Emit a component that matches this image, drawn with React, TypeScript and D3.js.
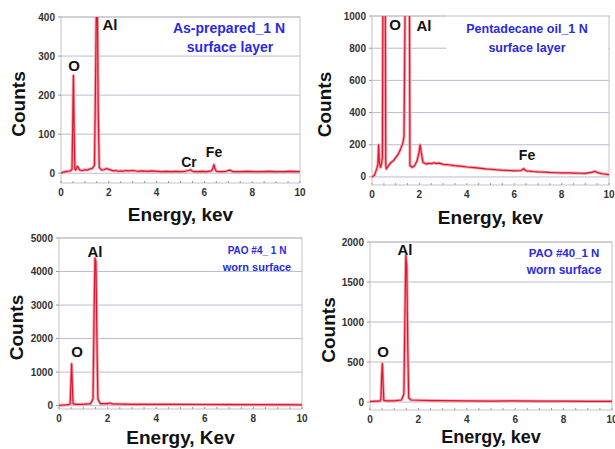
import React from 'react';
import * as d3 from 'd3';

// EDS spectra, [energy keV, counts]
const spectrumAsPrepared: [number, number][] = [
  [0, 0], [0.1, 3], [0.2, 4], [0.3, 5], [0.4, 6], [0.46, 10], [0.49, 120], [0.52, 250], [0.55, 110], [0.58, 10],
  [0.62, 8], [0.68, 18], [0.72, 15], [0.78, 8], [0.9, 7], [1.0, 9], [1.1, 8], [1.2, 11], [1.3, 12], [1.4, 20],
  [1.44, 200], [1.48, 430], [1.52, 430], [1.56, 150], [1.6, 15], [1.7, 8], [1.8, 9], [1.9, 12], [2.0, 10], [2.1, 8],
  [2.2, 6], [2.3, 7], [2.4, 5], [2.5, 6], [2.6, 5], [2.7, 7], [2.8, 6], [3.0, 7], [3.2, 5], [3.4, 6], [3.6, 5],
  [3.8, 6], [4.0, 5], [4.2, 4], [4.4, 5], [4.6, 4], [4.8, 5], [5.0, 4], [5.2, 5], [5.35, 7], [5.42, 9], [5.5, 5],
  [5.7, 4], [5.9, 5], [6.1, 4], [6.3, 6], [6.36, 14], [6.4, 22], [6.44, 12], [6.5, 5], [6.7, 4], [6.9, 5],
  [7.06, 8], [7.2, 4], [7.5, 4], [7.8, 5], [8.1, 4], [8.4, 4], [8.7, 5], [9.0, 4], [9.3, 4], [9.6, 5], [10, 4],
];
const spectrumPentadecane: [number, number][] = [
  [0, 0], [0.1, 10], [0.2, 50], [0.25, 80], [0.28, 200], [0.31, 90], [0.36, 60], [0.4, 80], [0.44, 120],
  [0.46, 1100], [0.56, 1100], [0.58, 80], [0.6, 50], [0.7, 70], [0.8, 90], [0.9, 100], [1.0, 120], [1.1, 140],
  [1.2, 170], [1.3, 210], [1.35, 250], [1.4, 1100], [1.58, 1100], [1.6, 70], [1.7, 60], [1.8, 70], [1.9, 100],
  [1.98, 150], [2.03, 200], [2.08, 150], [2.15, 90], [2.3, 80], [2.4, 86], [2.5, 82], [2.6, 88], [2.7, 84],
  [2.85, 86], [3.0, 78], [3.2, 76], [3.5, 70], [3.8, 66], [4.0, 62], [4.3, 58], [4.5, 55], [4.8, 50], [5.0, 48],
  [5.3, 44], [5.5, 42], [5.8, 40], [6.0, 38], [6.3, 40], [6.4, 52], [6.5, 38], [6.8, 34], [7.0, 32], [7.3, 30],
  [7.5, 28], [7.8, 26], [8.0, 25], [8.3, 25], [8.5, 24], [8.8, 23], [9.0, 22], [9.3, 30], [9.4, 35], [9.5, 28],
  [9.7, 20], [10, 15],
];
const spectrumPao4: [number, number][] = [
  [0, 10], [0.2, 20], [0.4, 30], [0.46, 60], [0.49, 700], [0.52, 1250], [0.55, 600], [0.58, 60], [0.7, 40],
  [1.0, 40], [1.3, 60], [1.4, 200], [1.44, 2500], [1.48, 4400], [1.52, 4300], [1.56, 2000], [1.6, 200], [1.7, 60],
  [2.0, 60], [2.1, 80], [2.2, 50], [3, 40], [4, 38], [5, 35], [6, 34], [7, 32], [8, 30], [9, 28], [10, 25],
];
const spectrumPao40: [number, number][] = [
  [0, 5], [0.2, 10], [0.4, 12], [0.45, 30], [0.48, 300], [0.51, 480], [0.54, 250], [0.57, 20], [0.7, 15],
  [1.0, 15], [1.3, 25], [1.4, 100], [1.44, 1000], [1.48, 1830], [1.52, 1700], [1.56, 700], [1.6, 50], [1.7, 25],
  [2.0, 22], [2.5, 18], [3, 16], [4, 14], [5, 12], [6, 14], [7, 10], [8, 10], [9, 8], [10, 8],
];

const energyTicks = [0, 2, 4, 6, 8, 10];
const ticksAsPrepared = [0, 100, 200, 300, 400];
const ticksPentadecane = [0, 200, 400, 600, 800, 1000];
const ticksPao4 = [0, 1000, 2000, 3000, 4000, 5000];
const ticksPao40 = [0, 500, 1000, 1500, 2000];

const FONT = "Arial, 'Liberation Sans', sans-serif";

interface Lbl { text: string; x: number; y: number; size: number; color?: string }

interface PanelProps {
  id: string;
  data: [number, number][];
  yTicks: number[];
  yMin: number;
  left: number; right: number; top: number; bottom: number;
  xTitle: string; xTitleY: number; xTitleSize: number;
  yTitleX: number;
  labels: Lbl[];
  maskBox?: [number, number, number, number];
}

const Panel = (p: PanelProps) => {
  const x = d3.scaleLinear().domain([0, 10]).range([p.left, p.right]);
  const y = d3.scaleLinear().domain([p.yMin, p.yTicks[p.yTicks.length - 1]]).range([p.bottom, p.top]);
  const line = d3.line<[number, number]>().x(d => x(d[0])).y(d => y(d[1]));
  const path = line(p.data) || '';
  const minor = d3.range(0, 10.01, 0.5);
  return (
    <g>
      <defs>
        <clipPath id={p.id}>
          <rect x={p.left} y={p.top} width={p.right - p.left} height={p.bottom - p.top} />
        </clipPath>
      </defs>
      {p.yTicks.map(t => (
        <line key={t} x1={p.left} x2={p.right} y1={y(t)} y2={y(t)} stroke="#b9bcd6" strokeWidth={1} />
      ))}
      {p.maskBox && (
        <rect x={p.maskBox[0]} y={p.maskBox[1]} width={p.maskBox[2]} height={p.maskBox[3]} fill="#fff" />
      )}
      <rect x={p.left} y={p.top} width={p.right - p.left} height={p.bottom - p.top}
        fill="none" stroke="#c4c4c4" strokeWidth={1} />
      {minor.map(t => (
        <line key={t} x1={x(t)} x2={x(t)} y1={p.bottom} y2={p.bottom - 2} stroke="#9a9a9a" />
      ))}
      {p.yTicks.map(t => (
        <line key={t} x1={p.left - 3} x2={p.left} y1={y(t)} y2={y(t)} stroke="#9a9a9a" />
      ))}
      <g clipPath={`url(#${p.id})`}>
        <path d={path} fill="none" stroke="#f5a3ab" strokeWidth={3} strokeLinejoin="round" />
        <path d={path} fill="none" stroke="#e0142c" strokeWidth={1.2} strokeLinejoin="round" />
      </g>
      {p.yTicks.map(t => (
        <text key={t} x={p.left - 6} y={y(t)} dy="0.35em" textAnchor="end" fontSize={10}
          fontWeight="bold" fill="#333" fontFamily={FONT}>{t}</text>
      ))}
      {energyTicks.map(t => (
        <text key={t} x={x(t)} y={p.bottom + 13} textAnchor="middle" fontSize={10}
          fontWeight="bold" fill="#333" fontFamily={FONT}>{t}</text>
      ))}
      <text x={(p.left + p.right) / 2} y={p.xTitleY} textAnchor="middle" fontSize={p.xTitleSize}
        fontWeight="bold" fill="#111" fontFamily={FONT}>{p.xTitle}</text>
      <text transform={`translate(${p.yTitleX},${(p.top + p.bottom) / 2 + 4}) rotate(-90)`}
        textAnchor="middle" dy="0.35em" fontSize={19} fontWeight="bold" fill="#111"
        fontFamily={FONT}>Counts</text>
      {p.labels.map((l, i) => (
        <text key={i} x={l.x} y={l.y} dy="0.35em" textAnchor="middle" fontSize={l.size}
          fontWeight="bold" fill={l.color || '#111'} fontFamily={FONT}>{l.text}</text>
      ))}
    </g>
  );
};

const BLUE = '#2a2ae0';

const App = () => (
  <svg width={615} height={449} style={{ position: 'absolute', left: 0, top: 0, background: '#fff' }}>
    <Panel id="c1" data={spectrumAsPrepared} yTicks={ticksAsPrepared} yMin={-25}
      left={61} right={300} top={17} bottom={183} xTitle="Energy, kev" xTitleY={221} xTitleSize={19}
      yTitleX={18}
      labels={[
        { text: 'Al', x: 110, y: 25, size: 15 },
        { text: 'O', x: 74, y: 66, size: 15 },
        { text: 'Cr', x: 189, y: 162, size: 14 },
        { text: 'Fe', x: 214, y: 152, size: 14 },
        { text: 'As-prepared_1 N', x: 229, y: 28, size: 14, color: BLUE },
        { text: 'surface layer', x: 230, y: 47, size: 14, color: BLUE },
      ]} />
    <Panel id="c2" data={spectrumPentadecane} yTicks={ticksPentadecane} yMin={-50}
      left={372} right={609} top={16} bottom={185} xTitle="Energy, kev" xTitleY={224} xTitleSize={19}
      yTitleX={324}
      maskBox={[446, 15, 162, 44]}
      labels={[
        { text: 'O', x: 395, y: 25, size: 15 },
        { text: 'Al', x: 424, y: 26, size: 15 },
        { text: 'Fe', x: 527, y: 155, size: 14 },
        { text: 'Pentadecane oil_1 N', x: 527, y: 29, size: 12.5, color: BLUE },
        { text: 'surface layer', x: 527, y: 48, size: 12.5, color: BLUE },
      ]} />
    <Panel id="c3" data={spectrumPao4} yTicks={ticksPao4} yMin={-100}
      left={59} right={302} top={238} bottom={409} xTitle="Energy, Kev" xTitleY={444} xTitleSize={19}
      yTitleX={16}
      labels={[
        { text: 'Al', x: 95, y: 252, size: 15 },
        { text: 'O', x: 77, y: 352, size: 15 },
        { text: 'PAO #4_ 1 N', x: 257, y: 250, size: 10, color: BLUE },
        { text: 'worn surface', x: 257, y: 267, size: 11, color: BLUE },
      ]} />
    <Panel id="c4" data={spectrumPao40} yTicks={ticksPao40} yMin={-100}
      left={370} right={612} top={242} bottom={410} xTitle="Energy, kev" xTitleY={443} xTitleSize={18}
      yTitleX={328}
      labels={[
        { text: 'Al', x: 405, y: 250, size: 15 },
        { text: 'O', x: 383, y: 352, size: 15 },
        { text: 'PAO #40_1 N', x: 564, y: 253, size: 11.5, color: BLUE },
        { text: 'worn surface', x: 564, y: 270, size: 12, color: BLUE },
      ]} />
  </svg>
);

export default App;
